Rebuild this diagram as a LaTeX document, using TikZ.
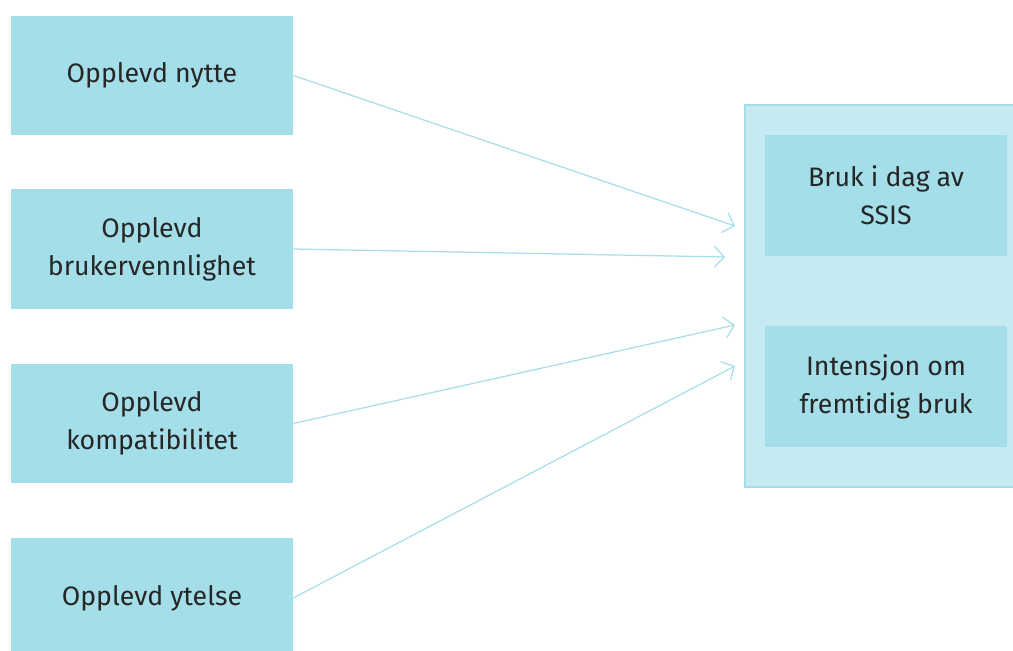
\documentclass[tikz,border=0pt]{standalone}
\usepackage{fontspec}
\setmainfont{Fira Sans}
\usetikzlibrary{arrows.meta}
\definecolor{boxblue}{HTML}{A3DEE9}
\definecolor{paleblue}{HTML}{C6EAF2}
\definecolor{edgeblue}{HTML}{A6DCE8}
\definecolor{linkblue}{HTML}{A9DEEA}
\begin{document}
\begin{tikzpicture}[x=0.025cm,y=-0.025cm]
    \tikzstyle{every node}+=[inner sep=0pt]
    \tikzstyle{factor}=[fill=boxblue, minimum width=7.05cm, minimum height=2.99cm, align=center, text=black!85, font=\fontsize{19}{27}\selectfont]
    \tikzstyle{outcome}=[factor, minimum width=6.05cm, minimum height=3.03cm]
    \tikzstyle{link}=[linkblue, line width=0.9pt, -{Straight Barb[length=7pt,width=15pt]}]
    \clip (0,0) rectangle (1013,651);
    % left column
    \node [factor] (nytte) at (152,75.5) {Opplevd nytte};
    \node [factor] (brukervennlighet) at (152,249) {Opplevd\\brukervennlighet};
    \node [factor] (kompatibilitet) at (152,423.5) {Opplevd\\kompatibilitet};
    \node [factor] (ytelse) at (152,598) {Opplevd ytelse};
    % right group
    \draw [edgeblue, fill=paleblue, line width=0.8pt] (745,105) rectangle (1025,487);
    \node [outcome] (bruk) at (886,195.5) {Bruk i dag av\\SSIS};
    \node [outcome] (intensjon) at (886,386.5) {Intensjon om\\fremtidig bruk};
    \coordinate (t1) at (735,226);
    \coordinate (t2) at (725,257);
    \coordinate (t3) at (735,325);
    \coordinate (t4) at (735,366);
    \draw [link] (nytte.east) -- (t1);
    \draw [link] (brukervennlighet.east) -- (t2);
    \draw [link] (kompatibilitet.east) -- (t3);
    \draw [link] (ytelse.east) -- (t4);
\end{tikzpicture}
\end{document}
